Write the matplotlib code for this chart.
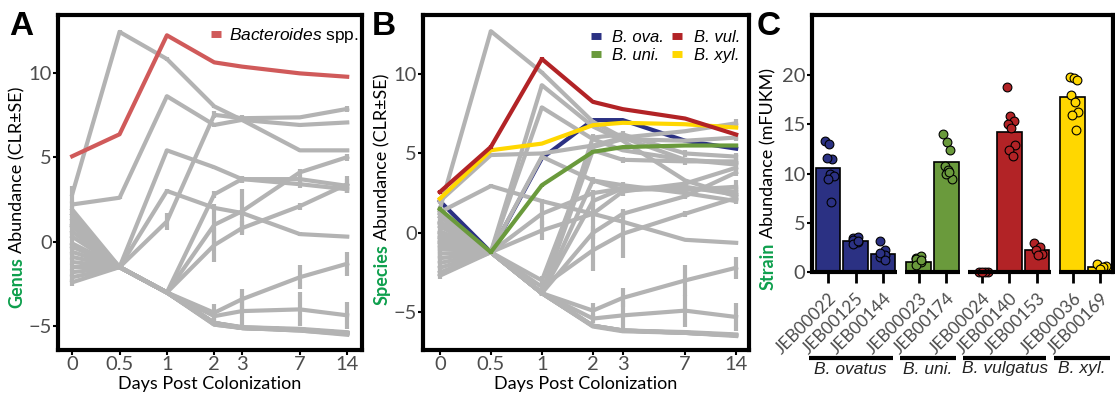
import numpy as np
import matplotlib.pyplot as plt
from matplotlib import transforms

plt.rcParams['font.family'] = ['Lato', 'DejaVu Sans']
plt.rcParams['mathtext.fontset'] = 'custom'
plt.rcParams['mathtext.it'] = 'Liberation Sans:italic'
plt.rcParams['mathtext.rm'] = 'Liberation Sans'

# ---- data ----
days = [0, 0.5, 1, 2, 3, 7, 14]
day_labels = ["0", "0.5", "1", "2", "3", "7", "14"]

# panel A: genus level (CLR)
bacteroides = [5.05, 6.35, 12.2, 10.6, 10.35, 9.95, 9.75]
genus_gray = [
    [2.8, 12.4, 10.8, 8.0, 7.2, 5.4, 5.4],
    [2.2, 2.6, 8.6, 6.9, 7.2, 6.9, 7.05],
    [1.6, -1.5, 5.4, 4.4, 3.7, 3.4, 3.1],
    [1.3, -1.5, 3.0, 2.0, 1.7, 0.45, 0.3],
    [1.0, -1.5, 1.2, 7.5, 7.3, 7.35, 7.85],
    [0.6, -1.5, -3.0, 2.8, 3.7, 3.7, 3.3],
    [0.3, -1.5, -3.0, 1.0, 1.8, 4.1, 5.0],
    [-0.3, -1.5, -3.0, -0.2, 0.8, 2.1, 3.4],
    [-0.6, -1.5, -3.0, -4.2, -3.4, -2.1, -1.3],
    [-0.9, -1.5, -3.0, -4.4, -4.1, -4.0, -4.35],
    [-1.2, -1.5, -3.0, -4.8, -5.05, -5.15, -5.35],
    [-1.8, -1.5, -3.0, -4.8, -5.05, -5.2, -5.4],
    [-2.1, -1.5, -3.0, -4.9, -5.1, -5.25, -5.45],
    [-2.4, -1.5, -3.0, -4.9, -5.1, -5.25, -5.5],
    [1.9, -1.5, -3.0, -4.8, -5.1, -5.2, -5.4],
    [0.9, -1.5, -3.0, -4.8, -5.1, -5.2, -5.4],
    [-0.1, -1.5, -3.0, -4.8, -5.1, -5.2, -5.4],
    [-1.5, -1.5, -3.0, -4.8, -5.1, -5.2, -5.4],
]
genus_gray_se = [
    [0.5, 0.1, 0.1, 0.1, 0.1, 0.1, 0.1],
    [0.2, 0.1, 0.1, 0.1, 0.1, 0.1, 0.1],
    [0.2, 0.1, 0.1, 0.1, 0.2, 0.2, 0.2],
    [0.2, 0.1, 0.1, 0.1, 0.1, 0.1, 0.1],
    [0.2, 0.1, 0.5, 0.2, 0.2, 0.1, 0.2],
    [0.2, 0.1, 0.1, 0.2, 0.2, 0.2, 0.4],
    [0.2, 0.1, 0.1, 1.2, 1.3, 0.2, 0.2],
    [0.2, 0.1, 0.1, 1.0, 0.4, 0.2, 0.5],
    [0.2, 0.1, 0.1, 0.5, 0.6, 0.7, 0.7],
    [0.2, 0.1, 0.1, 0.3, 0.9, 1.0, 0.8],
    [0.2, 0.1, 0.1, 0.1, 0.1, 0.1, 0.1],
    [0.2, 0.1, 0.1, 0.1, 0.1, 0.1, 0.1],
    [0.2, 0.1, 0.1, 0.1, 0.1, 0.1, 0.1],
    [0.2, 0.1, 0.1, 0.1, 0.1, 0.1, 0.1],
    [0.2, 0.1, 0.1, 0.1, 0.1, 0.1, 0.1],
    [0.2, 0.1, 0.1, 0.1, 0.1, 0.1, 0.1],
    [0.2, 0.1, 0.1, 0.1, 0.1, 0.1, 0.1],
    [0.2, 0.1, 0.1, 0.1, 0.1, 0.1, 0.1],
]

# panel B: species level (CLR)
b_ova = [2.0, -1.22, 4.7, 7.1, 7.1, 5.8, 5.3]
b_uni = [1.5, -1.22, 3.0, 5.1, 5.4, 5.5, 5.5]
b_vul = [2.57, 5.41, 10.95, 8.25, 7.79, 7.2, 6.19]
b_xyl = [2.15, 5.2, 5.62, 6.78, 6.93, 6.84, 6.63]
species_gray = [
    [1.5, 12.7, 10.1, 7.0, 6.0, 4.6, 4.4],
    [1.2, -1.22, 9.3, 6.7, 5.8, 3.3, 2.3],
    [1.0, -1.22, 7.9, 5.9, 5.2, 4.6, 4.3],
    [2.0, 4.9, 5.0, 5.5, 6.0, 6.4, 6.9],
    [1.3, 2.95, 2.0, 1.2, 0.7, -0.44, -0.63],
    [0.7, -1.22, 4.8, 3.3, 2.7, 2.8, 2.6],
    [0.4, -1.22, 1.2, 2.5, 2.8, 2.7, 2.9],
    [0.1, -1.22, 0.15, 1.2, 2.6, 3.1, 4.1],
    [-0.2, -1.22, -3.0, 5.4, 5.9, 5.8, 6.0],
    [-0.5, -1.22, -3.8, 6.0, 6.2, 5.0, 4.8],
    [-0.8, -1.22, -3.8, 0.0, 1.2, 2.3, 3.8],
    [-1.0, -1.22, -3.4, -1.1, -0.06, 1.2, 2.2],
    [-1.3, -1.22, -3.8, 2.0, 2.8, 2.9, 2.4],
    [0.0, -1.22, -3.8, 5.2, 4.6, 4.5, 4.5],
    [-0.3, -1.22, -3.8, 3.3, 3.0, 2.5, 2.0],
    [-1.6, -1.22, -3.8, -4.9, -4.1, -3.0, -2.2],
    [-1.9, -1.22, -3.8, -5.4, -5.2, -4.9, -5.3],
    [-2.2, -1.22, -3.8, -5.85, -6.15, -6.25, -6.4],
    [-2.5, -1.22, -3.8, -5.85, -6.15, -6.3, -6.45],
    [-2.7, -1.22, -3.8, -5.9, -6.2, -6.3, -6.5],
    [0.6, -1.22, -3.8, -5.85, -6.15, -6.3, -6.45],
    [-0.6, -1.22, -3.8, -5.85, -6.15, -6.3, -6.45],
]
species_gray_se = [
    [0.2, 0.1, 0.1, 0.1, 0.1, 0.1, 0.1],
    [0.2, 0.1, 0.1, 0.1, 0.1, 0.1, 0.2],
    [0.2, 0.1, 0.1, 0.1, 0.1, 0.1, 0.2],
    [0.2, 0.1, 0.1, 0.1, 0.1, 0.1, 0.3],
    [0.2, 0.1, 0.1, 0.1, 0.1, 0.1, 0.1],
    [0.2, 0.1, 0.2, 0.1, 0.1, 0.2, 0.4],
    [0.2, 0.1, 0.8, 0.2, 0.2, 0.2, 0.4],
    [0.2, 0.1, 0.6, 1.4, 0.3, 0.2, 0.3],
    [0.2, 0.1, 0.3, 0.2, 0.2, 0.1, 0.2],
    [0.2, 0.1, 0.2, 0.2, 0.2, 0.2, 0.2],
    [0.2, 0.1, 0.2, 0.4, 0.3, 0.2, 0.2],
    [0.2, 0.1, 0.3, 1.3, 1.5, 0.2, 0.3],
    [0.2, 0.1, 0.2, 0.3, 0.2, 0.2, 0.4],
    [0.2, 0.1, 0.2, 0.2, 0.2, 0.2, 0.2],
    [0.2, 0.1, 0.2, 0.2, 0.2, 0.2, 0.2],
    [0.2, 0.1, 0.1, 0.5, 0.6, 1.0, 0.7],
    [0.2, 0.1, 0.1, 0.3, 0.9, 1.0, 0.9],
    [0.2, 0.1, 0.1, 0.1, 0.1, 0.1, 0.1],
    [0.2, 0.1, 0.1, 0.1, 0.1, 0.1, 0.1],
    [0.2, 0.1, 0.1, 0.1, 0.1, 0.1, 0.1],
    [0.2, 0.1, 0.1, 0.1, 0.1, 0.1, 0.1],
    [0.2, 0.1, 0.1, 0.1, 0.1, 0.1, 0.1],
]

# panel C: strain abundance (mFUKM)
strains = ["JEB00022", "JEB00125", "JEB00144", "JEB00023", "JEB00174",
           "JEB00024", "JEB00140", "JEB00153", "JEB00036", "JEB00169"]
strain_group = [0, 0, 0, 1, 1, 2, 2, 2, 3, 3]
groups = ["B. ovatus", "B. uni.", "B. vulgatus", "B. xyl."]
strain_mean = [10.6, 3.15, 1.87, 1.0, 11.2, 0.0, 14.2, 2.2, 17.8, 0.5]
strain_reps = [
    [13.3, 13.0, 11.5, 11.6, 10.0, 9.7, 9.4, 7.1],
    [3.5, 3.6, 3.2, 3.0, 2.8, 3.1],
    [3.1, 2.2, 1.5, 1.7, 1.9, 1.2],
    [1.4, 1.6, 1.3, 1.0, 0.7, 1.2],
    [14.0, 13.2, 12.4, 10.8, 10.4, 9.4, 10.0, 10.2],
    [0.0, 0.0, 0.0, 0.0],
    [18.8, 15.8, 15.3, 15.0, 14.6, 12.9, 12.4, 11.8],
    [2.9, 2.5, 2.2, 1.8, 1.7],
    [19.8, 19.7, 19.5, 18.0, 17.3, 16.2, 15.9, 14.4],
    [0.8, 0.6, 0.5, 0.3],
]

# ---- styling ----
GRAY = "#b3b3b3"
GREEN_LAB = "#0e9f4d"
TICKC = "#4d4d4d"
col_ova, col_uni, col_vul, col_xyl = "#2b3183", "#6a9a3c", "#b22326", "#ffd700"
group_colors = [col_ova, col_uni, col_vul, col_xyl]
RED_A = "#d05a5a"
TICKSIZE = 14.5
TITLESIZE = 13

xpos = np.array([-2.0 if d == 0 else np.log2(d) for d in days])

fig = plt.figure(figsize=(11.15, 3.93), dpi=100)
W, H = 1115.0, 393.0


def add_ax(l, t, r, b):
    return fig.add_axes([l / W, 1 - b / H, (r - l) / W, (b - t) / H])


def style_frame(ax):
    for s in ax.spines.values():
        s.set_linewidth(3)
        s.set_color("black")
    ax.tick_params(axis="both", which="major", direction="out", length=3.5,
                   width=1.5, color="black", labelcolor=TICKC,
                   labelsize=TICKSIZE, pad=1)


def draw_lines(ax, lines, ses, color, z=2):
    for ys, se in zip(lines, ses):
        ys = np.array(ys)
        se = np.array(se)
        ax.plot(xpos, ys, color=color, lw=3, zorder=z)
        ax.vlines(xpos, ys - se, ys + se, color=color, lw=3, zorder=z)


def two_color_ylabel(ax, x, ybottom, word, rest):
    t = fig.text(x / W, 1 - ybottom / H, word, rotation=90, color=GREEN_LAB,
                 fontweight="bold", ha="center", va="bottom", fontsize=TITLESIZE)
    ax.annotate(rest, xy=(0.5, 1), xycoords=t, xytext=(0, 3),
                textcoords="offset points", rotation=90, ha="center",
                va="bottom", fontsize=TITLESIZE, annotation_clip=False)


# ---- panel A ----
axA = add_ax(58, 15, 362, 350)
draw_lines(axA, genus_gray, genus_gray_se, GRAY)
axA.plot(xpos, bacteroides, color=RED_A, lw=3, zorder=3)
hA = [plt.Line2D([], [], color=RED_A, lw=5, solid_capstyle="butt")]
axA.set_xlim(-2.30, 4.12)
axA.set_ylim(-6.4, 13.4)
axA.set_xticks(xpos)
axA.set_xticklabels(day_labels)
axA.set_yticks([-5, 0, 5, 10])
style_frame(axA)
axA.set_xlabel("Days Post Colonization", fontsize=TITLESIZE, labelpad=2)
axA.legend(hA, [r"$\mathit{Bacteroides}$ spp."], loc="upper right",
           bbox_to_anchor=(1.04, 1.015), frameon=False,
           handlelength=0.55, handletextpad=0.45,
           prop={"family": "Liberation Sans", "size": 12.5})
two_color_ylabel(axA, 17, 308, "Genus", "Abundance (CLR\u00b1SE)")

# ---- panel B ----
axB = add_ax(423, 15, 749, 350)
zero_se = [0.1] * len(days)
draw_lines(axB, [b_ova], [zero_se], col_ova, z=1.5)
draw_lines(axB, species_gray, species_gray_se, GRAY)
draw_lines(axB, [b_uni], [zero_se], col_uni, z=3)
draw_lines(axB, [b_xyl], [zero_se], col_xyl, z=3)
draw_lines(axB, [b_vul], [zero_se], col_vul, z=3)
axB.set_xlim(-2.33, 4.06)
axB.set_ylim(-7.38, 13.72)
axB.set_xticks(xpos)
axB.set_xticklabels(day_labels)
axB.set_yticks([-5, 0, 5, 10])
style_frame(axB)
axB.set_xlabel("Days Post Colonization", fontsize=TITLESIZE, labelpad=2)
hB = [plt.Line2D([], [], color=c, lw=5, solid_capstyle="butt")
      for c in (col_ova, col_uni, col_vul, col_xyl)]
axB.legend(hB, ["B. ova.", "B. uni.", "B. vul.", "B. xyl."], ncol=2,
           loc="upper right", bbox_to_anchor=(1.02, 1.0), frameon=False,
           handlelength=0.6, handletextpad=0.7, columnspacing=0.5,
           labelspacing=0.2,
           prop={"family": "Liberation Sans", "size": 12, "style": "italic"})
two_color_ylabel(axB, 382, 305, "Species", "Abundance (CLR\u00b1SE)")

# ---- panel C ----
axC = add_ax(811.7, 15, 1113, 272)
gap = 0.31
cpos = np.array([i + gap * g for i, g in enumerate(strain_group)])
bar_colors = [group_colors[g] for g in strain_group]
axC.bar(cpos, strain_mean, width=0.9, color=bar_colors, edgecolor="black",
        linewidth=1.2, zorder=2)
for p, reps, c in zip(cpos, strain_reps, bar_colors):
    n = len(reps)
    k = np.arange(n)
    jit = ((k * 3) % n) / max(n - 1, 1) - 0.5
    axC.scatter(p + 0.3 * jit + 0.05, reps, s=40, facecolor=c,
                edgecolor="black", linewidth=0.8, zorder=3, clip_on=False)
axC.set_xlim(-0.6, 10.4)
axC.set_ylim(0, 26.1)
axC.set_yticks([0, 5, 10, 15, 20])
axC.set_xticks(cpos)
axC.set_xticklabels(strains, rotation=45, ha="right", rotation_mode="anchor")
style_frame(axC)
axC.spines["bottom"].set_visible(False)
axC.tick_params(axis="x", length=8, width=2, pad=5, labelsize=12.5)
for g in range(len(groups)):
    members = cpos[np.array(strain_group) == g]
    axC.plot([members.min() - 0.5, members.max() + 0.5], [0, 0], color="black",
             lw=3, solid_capstyle="butt", clip_on=False, zorder=4)
two_color_ylabel(axC, 768, 290, "Strain", "Abundance (mFUKM)")

# species brackets below the strain labels
trans = transforms.blended_transform_factory(axC.transData, fig.transFigure)
for g, name in enumerate(groups):
    members = cpos[np.array(strain_group) == g]
    x0, x1 = members.min() - 0.7, members.max() + 0.35
    axC.plot([x0, x1], [1 - 358 / H] * 2, color="black", lw=3,
             solid_capstyle="butt", transform=trans, clip_on=False)
    axC.text((x0 + x1) / 2, 1 - 369 / H, name, transform=trans, ha="center",
             va="center", fontsize=12.5, style="italic",
             family="Liberation Sans", color="#222222")

# panel letters
for lab, x in (("A", 9), ("B", 372), ("C", 757)):
    fig.text(x / W, 1 - 11 / H, lab, fontsize=24, fontweight="bold",
             family="Liberation Sans", va="top", ha="left")

fig.savefig("out.png", dpi=100)
